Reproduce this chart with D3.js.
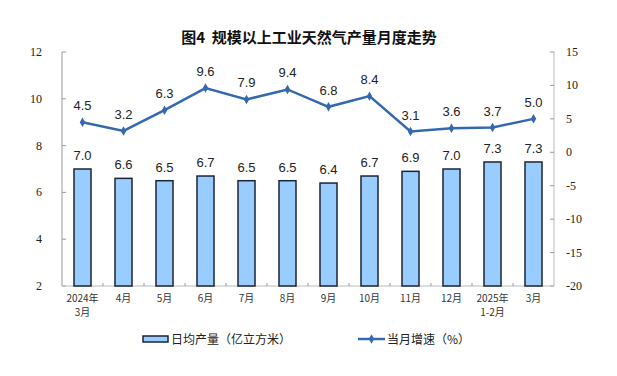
<!DOCTYPE html>
<html>
<head>
<meta charset="utf-8">
<title>规模以上工业天然气产量月度走势</title>
<script src="https://d3js.org/d3.v7.min.js"></script>
<style>
  body { margin: 0; background: #fff; }
  .ylab { font-family: "Liberation Serif", "DejaVu Serif", serif; font-size: 12px; fill: #222; }
  .xlab { font-family: "Noto Sans CJK SC", sans-serif; font-size: 10px; fill: #333; }
  .val { font-family: "Liberation Sans", Arial, sans-serif; font-size: 13px; fill: #222; }
</style>
</head>
<body>
<div id="chart"></div>
<script>
// data
var months = [["2024年", "3月"], ["4月"], ["5月"], ["6月"], ["7月"], ["8月"], ["9月"], ["10月"], ["11月"], ["12月"], ["2025年", "1-2月"], ["3月"]];
var dailyOutput = [7.0, 6.6, 6.5, 6.7, 6.5, 6.5, 6.4, 6.7, 6.9, 7.0, 7.3, 7.3];
var monthGrowth = [4.5, 3.2, 6.3, 9.6, 7.9, 9.4, 6.8, 8.4, 3.1, 3.6, 3.7, 5.0];
var leftTicks = [2, 4, 6, 8, 10, 12];
var rightTicks = [-20, -15, -10, -5, 0, 5, 10, 15];

var W = 617, H = 376;
var margin = {top: 52, right: 63, bottom: 90, left: 62};
var width = W - margin.left - margin.right,
    height = H - margin.top - margin.bottom;

var barColor = "#99ccff", lineColor = "#3469b0";

var svg = d3.select("#chart").append("svg")
  .attr("width", W).attr("height", H);

svg.append("text")
  .attr("x", 309).attr("y", 43)
  .attr("text-anchor", "middle")
  .style("font-family", "'Noto Sans CJK SC', sans-serif")
  .style("font-size", "15px")
  .style("font-weight", "bold")
  .style("fill", "#111")
  .text("图4\u00a0\u00a0规模以上工业天然气产量月度走势");

var g = svg.append("g").attr("transform", "translate(" + margin.left + "," + margin.top + ")");

var x = d3.scaleBand().domain(d3.range(months.length)).range([0, width]);
var yL = d3.scaleLinear().domain([2, 12]).range([height, 0]);
var yR = d3.scaleLinear().domain([-20, 15]).range([height, 0]);

// left axis
g.append("line").attr("x1", 0).attr("x2", 0).attr("y1", 0).attr("y2", height)
  .style("stroke", "#999").style("stroke-width", 1);
leftTicks.forEach(function(t) {
  g.append("line").attr("x1", 0).attr("x2", 4).attr("y1", yL(t)).attr("y2", yL(t))
    .style("stroke", "#999");
  g.append("text").attr("class", "ylab").attr("x", -20).attr("y", yL(t) + 4)
    .attr("text-anchor", "end").text(t);
});

// right axis
g.append("line").attr("x1", width).attr("x2", width).attr("y1", 0).attr("y2", height)
  .style("stroke", "#bbb").style("stroke-width", 1);
rightTicks.forEach(function(t) {
  g.append("line").attr("x1", width - 4).attr("x2", width).attr("y1", yR(t)).attr("y2", yR(t))
    .style("stroke", "#999");
  g.append("text").attr("class", "ylab").attr("x", width + 12).attr("y", yR(t) + 4)
    .attr("text-anchor", "start").text(t);
});

// bottom axis
g.append("line").attr("x1", 0).attr("x2", width).attr("y1", height).attr("y2", height)
  .style("stroke", "#bbb");
d3.range(1, months.length).forEach(function(i) {
  var xx = x(i);
  g.append("line").attr("x1", xx).attr("x2", xx).attr("y1", height - 3).attr("y2", height)
    .style("stroke", "#999");
});
months.forEach(function(m, i) {
  var t = g.append("text").attr("class", "xlab")
    .attr("x", x(i) + x.bandwidth() / 2).attr("y", height + 16)
    .attr("text-anchor", "middle");
  m.forEach(function(s, k) {
    t.append("tspan").attr("x", x(i) + x.bandwidth() / 2).attr("dy", k ? 14 : 0).text(s);
  });
});

// bars
var bw = 17;
g.selectAll(".bar").data(dailyOutput).enter().append("rect")
  .attr("x", function(d, i) { return x(i) + x.bandwidth() / 2 - bw / 2; })
  .attr("y", function(d) { return yL(d); })
  .attr("width", bw)
  .attr("height", function(d) { return height - yL(d); })
  .style("fill", barColor)
  .style("stroke", "#1c2533")
  .style("stroke-width", 1.5);

g.selectAll(".barlab").data(dailyOutput).enter().append("text")
  .attr("class", "val")
  .attr("x", function(d, i) { return x(i) + x.bandwidth() / 2; })
  .attr("y", function(d) { return yL(d) - 9; })
  .attr("text-anchor", "middle")
  .text(function(d) { return d.toFixed(1); });

// growth line
var line = d3.line()
  .x(function(d, i) { return x(i) + x.bandwidth() / 2; })
  .y(function(d) { return yR(d); });

g.append("path").datum(monthGrowth)
  .attr("d", line)
  .style("fill", "none")
  .style("stroke", lineColor)
  .style("stroke-width", 2.5);

var diamond = d3.symbol().type(d3.symbolDiamond).size(26);
g.selectAll(".pt").data(monthGrowth).enter().append("path")
  .attr("d", diamond)
  .attr("transform", function(d, i) { return "translate(" + (x(i) + x.bandwidth() / 2) + "," + yR(d) + ")"; })
  .style("fill", lineColor);

g.selectAll(".linelab").data(monthGrowth).enter().append("text")
  .attr("class", "val")
  .attr("x", function(d, i) { return x(i) + x.bandwidth() / 2; })
  .attr("y", function(d) { return yR(d) - 12; })
  .attr("text-anchor", "middle")
  .text(function(d) { return d.toFixed(1); });

// legend
var leg = svg.append("g");
leg.append("rect").attr("x", 143).attr("y", 336).attr("width", 25).attr("height", 6)
  .style("fill", barColor).style("stroke", "#1c2533").style("stroke-width", 1.5);
leg.append("text").attr("x", 171).attr("y", 344)
  .style("font-family", "'Noto Sans CJK SC', sans-serif").style("font-size", "12px").style("fill", "#222")
  .text("日均产量（亿立方米）");
leg.append("line").attr("x1", 358).attr("x2", 385).attr("y1", 339).attr("y2", 339)
  .style("stroke", lineColor).style("stroke-width", 2.5);
leg.append("path").attr("d", diamond).attr("transform", "translate(371.5,339)").style("fill", lineColor);
leg.append("text").attr("x", 387).attr("y", 344)
  .style("font-family", "'Noto Sans CJK SC', sans-serif").style("font-size", "12px").style("fill", "#222")
  .text("当月增速（%）");
</script>
</body>
</html>
